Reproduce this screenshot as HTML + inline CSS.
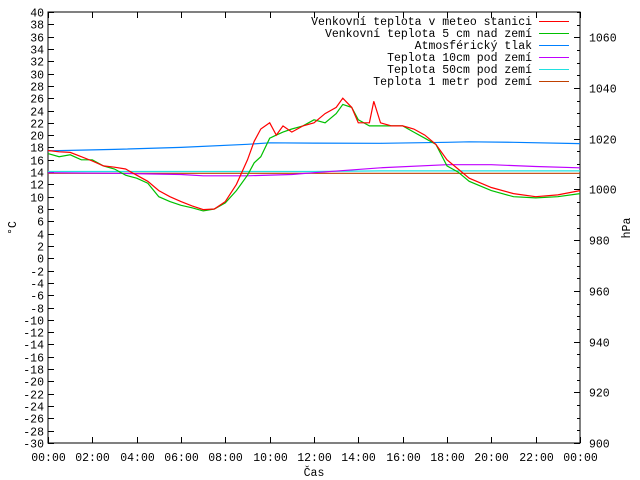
<!DOCTYPE html>
<html><head><meta charset="utf-8"><style>
html,body{margin:0;padding:0;background:#fff}
svg{display:block}
text{font-family:"Liberation Mono",monospace;font-size:11.5px;fill:#000}
</style></head><body>
<svg id="c" width="640" height="480" xmlns="http://www.w3.org/2000/svg"></svg>
<script>
const hours=[0,0.5,1,1.5,2,2.5,3,3.5,4,4.5,5,5.5,6,6.5,7,7.5,8,8.5,9,9.3,9.6,10,10.3,10.6,11,11.5,12,12.5,13,13.3,13.7,14,14.5,14.7,15,15.5,16,16.5,17,17.5,18,18.5,19,20,21,22,23,24];
const redT=[17.5,17.3,17.2,16.5,15.8,15,14.8,14.5,13.5,12.5,11,10,9.2,8.5,7.9,8,9.2,12,16,19,21,22,20,21.5,20.5,21.5,22,23.5,24.5,26,24.5,22,22,25.5,22,21.5,21.5,21,20,18.5,16,14.5,13,11.5,10.5,10,10.3,11];
const greenT=[17,16.5,16.8,16,16,15,14.5,13.5,13,12.2,10,9.2,8.6,8.2,7.7,8,9,11,13.5,15.5,16.5,19.5,20,20.5,21,21.5,22.5,22,23.5,25,24.5,22.5,21.5,21.5,21.5,21.5,21.5,20.5,19.5,18.5,15,14,12.5,11,10,9.8,10,10.5];
const pHours=[0,3,6,9,10,12,15,18,19,21,24];
const pressure=[1015.2,1015.8,1016.6,1017.8,1018.4,1018.3,1018.2,1018.6,1018.8,1018.6,1018.1];
const slowHours=[0,3,6,7,9,11,12,15,18,20,22,24];
const t10=[13.9,13.8,13.6,13.4,13.4,13.6,13.9,14.7,15.2,15.2,14.9,14.7];
const t50=[14.1,14.1,14.1,14.1,14.1,14.1,14.1,14.2,14.2,14.2,14.2,14.2];
const t1m=[13.8,13.8,13.8,13.8,13.8,13.8,13.8,13.8,13.8,13.8,13.8,13.8];
const xTicks=["00:00","02:00","04:00","06:00","08:00","10:00","12:00","14:00","16:00","18:00","20:00","22:00","00:00"];
const L=48,R=580,T=12,B=443;
const xs=h=>L+h*(R-L)/24;
const ys=t=>T+(40-t)*(B-T)/70;
const yp=p=>T+(1070-p)*(B-T)/170;
const svg=document.getElementById('c');
const NS='http://www.w3.org/2000/svg';
function mk(tag,attrs,parent){const e=document.createElementNS(NS,tag);for(const k in attrs)e.setAttribute(k,attrs[k]);(parent||svg).appendChild(e);return e;}
const frame=mk('rect',{x:L,y:T,width:R-L,height:B-T,fill:'none',stroke:'#000','stroke-width':1});


// left y ticks
for(let t=-30;t<=40;t+=2){const y=Math.round(ys(t))+0.5;
 const tk=mk('line',{x1:L,x2:L+6,y1:y,y2:y,stroke:'#000'});
 
 
 const tx=mk('text',{x:L-4,y:y+4,'text-anchor':'end'});tx.textContent=t;
 
 }
// right y ticks
for(let p=900;p<=1070;p+=5){const y=Math.round(yp(p))+0.5;const major=p%20===0&&p<=1060;
 const tk=mk('line',{x1:R-(major?6:3),x2:R,y1:y,y2:y,stroke:'#000'});
 
 
 if(major){const tx=mk('text',{x:R+9,y:y+4});tx.textContent=p;
 
 }}
// x ticks
xTicks.forEach((lab,i)=>{const x=Math.round(xs(i*2))+0.5;
 const tk=mk('line',{x1:x,x2:x,y1:B,y2:B-6,stroke:'#000'});
 
 
 const tk2=mk('line',{x1:x,x2:x,y1:T,y2:T+6,stroke:'#000'});
 
 
 const tx=mk('text',{x:x,y:B+18,'text-anchor':'middle'});tx.textContent=lab;
 
 });
function line(hs,vs,sc,color,name){const d=hs.map((h,i)=>(i?'L':'M')+xs(h).toFixed(1)+','+sc(vs[i]).toFixed(1)).join('');
 const p=mk('path',{d:d,fill:'none',stroke:color,'stroke-width':1.2});
 
 }
line(slowHours,t1m,ys,'#c04000','series-1m');
line(slowHours,t50,ys,'#20e0e0','series-50cm');
line(slowHours,t10,ys,'#c000ff','series-10cm');
line(pHours,pressure,yp,'#0080ff','series-pressure');
line(hours,greenT,ys,'#00c000','series-5cm');
line(hours,redT,ys,'#ff0000','series-station');
// legend
const leg=[["Venkovní teplota v meteo stanici",'#ff0000'],["Venkovní teplota 5 cm nad zemí",'#00c000'],["Atmosférický tlak",'#0080ff'],["Teplota 10cm pod zemí",'#c000ff'],["Teplota 50cm pod zemí",'#20e0e0'],["Teplota 1 metr pod zemí",'#c04000']];
leg.forEach((e,i)=>{const y=21+i*12;
 const tx=mk('text',{x:532,y:y+4,'text-anchor':'end'});tx.textContent=e[0];
 
 
 const ln=mk('line',{x1:539,x2:569,y1:y+0.5,y2:y+0.5,stroke:e[1]});
 
 });
// axis titles
const t1=mk('text',{x:16,y:228,'text-anchor':'middle',transform:'rotate(-90 16 228)'});t1.textContent='°C';


const t2=mk('text',{x:630,y:228,'text-anchor':'middle',transform:'rotate(-90 630 228)'});t2.textContent='hPa';


const t3=mk('text',{x:314,y:476,'text-anchor':'middle'});t3.textContent='Čas';


</script>
</body></html>
